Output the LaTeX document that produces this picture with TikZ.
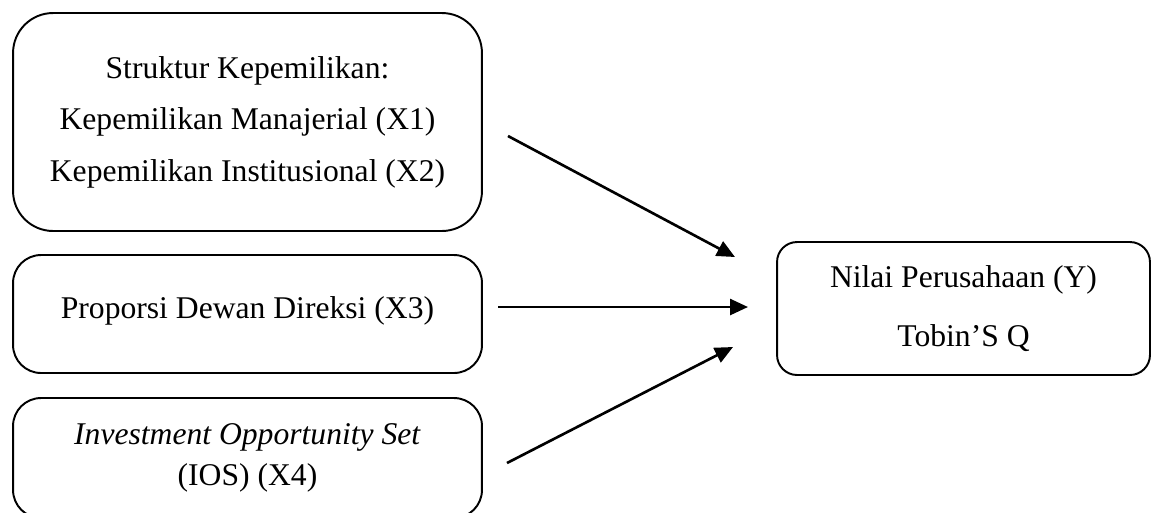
\documentclass[tikz,border=0pt]{standalone}
\usepackage{fontspec}
\setmainfont{Liberation Serif}
\usetikzlibrary{arrows.meta}

\tikzset{
	varbox/.style={draw, black, line width=1.1pt, align=center, inner sep=0pt},
	link/.style={-{Triangle[length=0.36cm, width=0.32cm]}, black, line width=1.5pt}
}

\begin{document}
\begin{tikzpicture}[x=0.02cm, y=-0.02cm]
			\useasboundingbox (0,0) rectangle (1152,512);
			
			% independent variables
			\node[varbox, minimum width=9.38cm, minimum height=4.36cm, rounded corners=0.8cm,
				font=\fontsize{18}{29.3}\selectfont] (struktur) at (247.5,122)
				{Struktur Kepemilikan:\\Kepemilikan Manajerial (X1)\\Kepemilikan Institusional (X2)};
			\node[varbox, minimum width=9.38cm, minimum height=2.36cm, rounded corners=0.56cm,
				font=\fontsize{18}{22}\selectfont, text depth=0.27cm] (dewan) at (247.5,314)
				{Proporsi Dewan Direksi (X3)};
			\node[varbox, minimum width=9.38cm, minimum height=2.4cm, rounded corners=0.56cm,
				font=\fontsize{18}{23.3}\selectfont] (ios) at (247.5,458)
				{\textit{Investment Opportunity Set}\\(IOS) (X4)};
			
			% dependent variable
			\node[varbox, minimum width=7.46cm, minimum height=2.66cm, rounded corners=0.4cm,
				font=\fontsize{18}{33.6}\selectfont] (nilai) at (963.5,308.5)
				{Nilai Perusahaan (Y)\\Tobin’S Q};
			
			\coordinate (s1) at (508,136);
			\coordinate (s2) at (498,307);
			\coordinate (s3) at (507,463);
			\coordinate (t1) at (735,257);
			\coordinate (t2) at (748,307);
			\coordinate (t3) at (733,347);
			
			\draw[link] (s1) -- (t1);
			\draw[link] (s2) -- (t2);
			\draw[link] (s3) -- (t3);
			
		\end{tikzpicture}
\end{document}
